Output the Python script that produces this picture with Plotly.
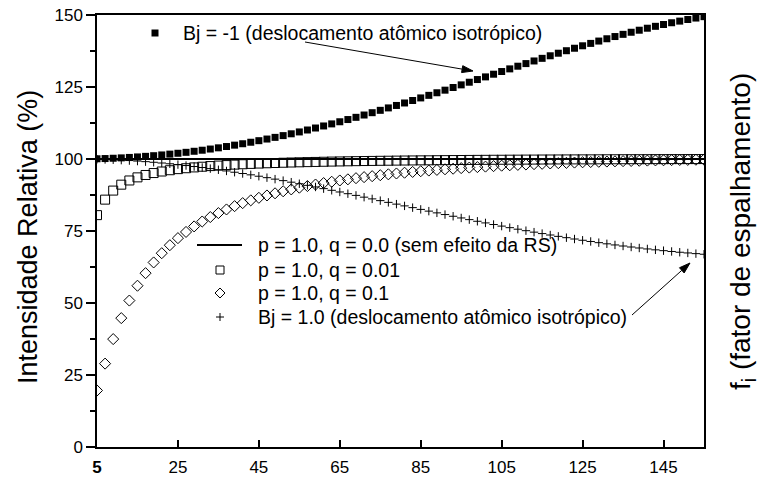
import math
import plotly.graph_objects as go

# ---------------- data ----------------
two_theta = [5, 7, 9, 11, 13, 15, 17, 19, 21, 23,
             25, 27, 29, 31, 33, 35, 37, 39, 41, 43,
             45, 47, 49, 51, 53, 55, 57, 59, 61, 63,
             65, 67, 69, 71, 73, 75, 77, 79, 81, 83,
             85, 87, 89, 91, 93, 95, 97, 99, 101, 103,
             105, 107, 109, 111, 113, 115, 117, 119, 121, 123,
             125, 127, 129, 131, 133, 135, 137, 139, 141, 143,
             145, 147, 149, 151, 153, 155]

# p = 1.0, q = 0.0 (no surface-roughness effect)
no_rs = [100, 100, 100, 100, 100, 100, 100, 100, 100, 100,
         100, 100, 100, 100, 100, 100, 100, 100, 100, 100,
         100, 100, 100, 100, 100, 100, 100, 100, 100, 100,
         100, 100, 100, 100, 100, 100, 100, 100, 100, 100,
         100, 100, 100, 100, 100, 100, 100, 100, 100, 100,
         100, 100, 100, 100, 100, 100, 100, 100, 100, 100,
         100, 100, 100, 100, 100, 100, 100, 100, 100, 100,
         100, 100, 100, 100, 100, 100]

# p = 1.0, q = 0.01
rs_q001 = [80.51, 85.89, 89.03, 91.09, 92.54, 93.62, 94.45, 95.12, 95.66, 96.10,
           96.48, 96.80, 97.08, 97.32, 97.54, 97.72, 97.89, 98.04, 98.18, 98.30,
           98.42, 98.52, 98.61, 98.70, 98.78, 98.85, 98.92, 98.98, 99.04, 99.10,
           99.15, 99.20, 99.25, 99.29, 99.33, 99.37, 99.40, 99.44, 99.47, 99.50,
           99.53, 99.55, 99.58, 99.60, 99.63, 99.65, 99.67, 99.69, 99.71, 99.73,
           99.74, 99.76, 99.77, 99.79, 99.80, 99.82, 99.83, 99.84, 99.85, 99.86,
           99.87, 99.88, 99.89, 99.90, 99.91, 99.92, 99.93, 99.93, 99.94, 99.95,
           99.95, 99.96, 99.96, 99.97, 99.97, 99.98]

# p = 1.0, q = 0.1
rs_q01 = [19.62, 28.95, 37.47, 44.75, 50.85, 56.00, 60.36, 64.08, 67.29, 70.07,
          72.52, 74.67, 76.59, 78.30, 79.84, 81.22, 82.48, 83.63, 84.68, 85.64,
          86.52, 87.34, 88.09, 88.79, 89.44, 90.04, 90.61, 91.14, 91.64, 92.10,
          92.54, 92.94, 93.34, 93.70, 94.04, 94.37, 94.68, 94.97, 95.24, 95.51,
          95.76, 95.99, 96.22, 96.43, 96.63, 96.84, 97.02, 97.19, 97.36, 97.52,
          97.68, 97.82, 97.96, 98.09, 98.22, 98.33, 98.45, 98.56, 98.66, 98.76,
          98.86, 98.95, 99.03, 99.11, 99.19, 99.26, 99.32, 99.39, 99.45, 99.51,
          99.56, 99.61, 99.66, 99.70, 99.75, 99.78]

# Bj = 1.0 (isotropic atomic displacement)
bj_pos = [99.92, 99.84, 99.74, 99.61, 99.46, 99.28, 99.08, 98.86, 98.61, 98.34,
          98.05, 97.73, 97.39, 97.04, 96.66, 96.26, 95.85, 95.41, 94.96, 94.50,
          94.02, 93.52, 93.01, 92.49, 91.95, 91.41, 90.85, 90.29, 89.71, 89.13,
          88.55, 87.95, 87.36, 86.75, 86.15, 85.54, 84.94, 84.33, 83.72, 83.11,
          82.50, 81.90, 81.30, 80.71, 80.12, 79.53, 78.95, 78.38, 77.81, 77.25,
          76.70, 76.16, 75.63, 75.11, 74.60, 74.10, 73.61, 73.14, 72.68, 72.22,
          71.78, 71.36, 70.95, 70.55, 70.16, 69.79, 69.44, 69.10, 68.77, 68.46,
          68.17, 67.89, 67.62, 67.38, 67.14, 66.93]

# Bj = -1 (isotropic atomic displacement)
bj_neg = [100.08, 100.16, 100.26, 100.39, 100.54, 100.72, 100.92, 101.15, 101.41, 101.69,
          101.99, 102.32, 102.68, 103.05, 103.46, 103.88, 104.33, 104.81, 105.30, 105.82,
          106.36, 106.93, 107.51, 108.12, 108.75, 109.40, 110.07, 110.76, 111.47, 112.19,
          112.93, 113.70, 114.47, 115.27, 116.08, 116.90, 117.74, 118.59, 119.45, 120.32,
          121.21, 122.10, 123.00, 123.90, 124.82, 125.74, 126.66, 127.59, 128.51, 129.44,
          130.37, 131.29, 132.22, 133.13, 134.04, 134.95, 135.84, 136.73, 137.60, 138.46,
          139.31, 140.14, 140.95, 141.75, 142.52, 143.28, 144.01, 144.72, 145.41, 146.07,
          146.70, 147.31, 147.88, 148.43, 148.94, 149.42]

x_tick_vals = [5, 25, 45, 65, 85, 105, 125, 145]
x_tick_text = ["<b>5</b>", "25", "45", "65", "85", "105", "125", "145"]
y_tick_vals = [0, 25, 50, 75, 100, 125, 150]

label_no_rs = "p = 1.0, q = 0.0 (sem efeito da RS)"
label_q001 = "p = 1.0, q = 0.01"
label_q01 = "p = 1.0, q = 0.1"
label_bj_pos = "Bj = 1.0 (deslocamento atômico isotrópico)"
label_bj_neg = "Bj = -1 (deslocamento atômico isotrópico)"
y_title = "Intensidade Relativa (%)"
y2_title = "f<sub>i</sub> (fator de espalhamento)"

# ---------------- layout helpers ----------------
W, H = 759, 477
ML, MR, MT, MB = 97, 55, 15, 30
PW, PH = W - ML - MR, H - MT - MB
FONT = "Arial, Liberation Sans, sans-serif"


def fx(p):
    return (p - ML) / PW


def fy(p):
    return (H - MB - p) / PH


def arrow_shapes(tail, head, head_len=11, half_w=3.5):
    (tx, ty), (hx, hy) = tail, head
    d = math.hypot(hx - tx, hy - ty)
    ux, uy = (hx - tx) / d, (hy - ty) / d
    nx, ny = -uy, ux
    bx, by = hx - head_len * ux, hy - head_len * uy
    p1 = (bx + half_w * nx, by + half_w * ny)
    p2 = (bx - half_w * nx, by - half_w * ny)
    line = dict(type="line", xref="paper", yref="paper",
                x0=fx(tx), y0=fy(ty), x1=fx(bx), y1=fy(by),
                line=dict(color="black", width=1))
    tri = dict(type="path", xref="paper", yref="paper",
               path="M{:.5f},{:.5f} L{:.5f},{:.5f} L{:.5f},{:.5f} Z".format(
                   fx(hx), fy(hy), fx(p1[0]), fy(p1[1]), fx(p2[0]), fy(p2[1])),
               fillcolor="black", line=dict(color="black", width=1))
    return [line, tri]


fig = go.Figure()
fig.add_trace(go.Scatter(x=two_theta, y=no_rs, mode="lines", name=label_no_rs,
                         line=dict(color="black", width=2)))
fig.add_trace(go.Scatter(x=two_theta, y=rs_q001, mode="markers", name=label_q001,
                         marker=dict(symbol="square-open", size=9, color="black",
                                     line=dict(width=1, color="black"))))
fig.add_trace(go.Scatter(x=two_theta, y=rs_q01, mode="markers", name=label_q01,
                         marker=dict(symbol="diamond-open", size=8.5, color="black",
                                     line=dict(width=1, color="black"))))
fig.add_trace(go.Scatter(x=two_theta, y=bj_pos, mode="markers", name=label_bj_pos,
                         marker=dict(symbol="cross-thin-open", size=6, color="black",
                                     line=dict(width=1, color="black"))))
fig.add_trace(go.Scatter(x=two_theta, y=bj_neg, mode="markers", name=label_bj_neg,
                         marker=dict(symbol="square", size=7, color="black",
                                     line=dict(width=0))))

# manual legend keys
shapes = [
    dict(type="line", xref="paper", yref="paper", x0=fx(197), x1=fx(242),
         y0=fy(245), y1=fy(245), line=dict(color="black", width=2)),
    dict(type="rect", xref="paper", yref="paper", xsizemode="pixel", ysizemode="pixel",
         xanchor=fx(220), yanchor=fy(270), x0=-4, x1=4, y0=-4, y1=4,
         line=dict(color="black", width=1)),
    dict(type="path", xref="paper", yref="paper", xsizemode="pixel", ysizemode="pixel",
         xanchor=fx(220), yanchor=fy(293), path="M-5,0 L0,5 L5,0 L0,-5 Z",
         line=dict(color="black", width=1)),
    dict(type="path", xref="paper", yref="paper", xsizemode="pixel", ysizemode="pixel",
         xanchor=fx(220), yanchor=fy(317), path="M-4,0 L4,0 M0,-4 L0,4",
         line=dict(color="black", width=1)),
    dict(type="rect", xref="paper", yref="paper", xsizemode="pixel", ysizemode="pixel",
         xanchor=fx(155), yanchor=fy(33), x0=-3.5, x1=3.5, y0=-3.5, y1=3.5,
         fillcolor="black", line=dict(width=0)),
]
# pointer arrows
shapes += arrow_shapes((305, 42), (473, 71))
shapes += arrow_shapes((632, 315), (690, 263))

tfont = dict(family=FONT, size=19.5, color="black")
annotations = [
    dict(text=label_bj_neg, xref="paper", yref="paper", x=fx(181), y=fy(33),
         xanchor="left", yanchor="middle", showarrow=False, font=tfont),
    dict(text=label_no_rs, xref="paper", yref="paper", x=fx(256), y=fy(245),
         xanchor="left", yanchor="middle", showarrow=False, font=tfont),
    dict(text=label_q001, xref="paper", yref="paper", x=fx(256), y=fy(270),
         xanchor="left", yanchor="middle", showarrow=False, font=tfont),
    dict(text=label_q01, xref="paper", yref="paper", x=fx(256), y=fy(293),
         xanchor="left", yanchor="middle", showarrow=False, font=tfont),
    dict(text=label_bj_pos, xref="paper", yref="paper", x=fx(256), y=fy(317),
         xanchor="left", yanchor="middle", showarrow=False, font=tfont),
    # axis titles
    dict(text=y_title, xref="paper", yref="paper", x=fx(28), y=fy(237),
         xanchor="center", yanchor="middle", textangle=-90, showarrow=False,
         font=dict(family=FONT, size=27, color="black")),
    dict(text=y2_title, xref="paper", yref="paper", x=fx(742), y=fy(232),
         xanchor="center", yanchor="middle", textangle=-90, showarrow=False,
         font=dict(family=FONT, size=28, color="black")),
]

fig.update_layout(
    width=W, height=H,
    margin=dict(l=ML, r=MR, t=MT, b=MB, pad=0, autoexpand=False),
    paper_bgcolor="white", plot_bgcolor="white",
    showlegend=False,
    font=dict(family=FONT, size=17, color="black"),
    shapes=shapes,
    annotations=annotations,
)
fig.update_xaxes(
    range=[5, 155], tickvals=x_tick_vals, ticktext=x_tick_text,
    showgrid=False, zeroline=False, automargin=False,
    showline=True, linecolor="black", linewidth=1.5, mirror=True,
    ticks="inside", ticklen=7, tickwidth=1.5, tickcolor="black",
    ticklabelstandoff=4,
    tickfont=dict(family=FONT, size=17, color="black"),
)
fig.update_yaxes(
    range=[0, 150], tickvals=y_tick_vals,
    showgrid=False, zeroline=False, automargin=False,
    showline=True, linecolor="black", linewidth=1.5, mirror=True,
    ticks="outside", ticklen=9, tickwidth=1.5, tickcolor="black",
    minor=dict(dtick=12.5, tick0=0, ticks="outside", ticklen=5, tickwidth=1.5,
               tickcolor="black", showgrid=False),
    tickfont=dict(family=FONT, size=17, color="black"),
)

fig.write_html("out.html")
